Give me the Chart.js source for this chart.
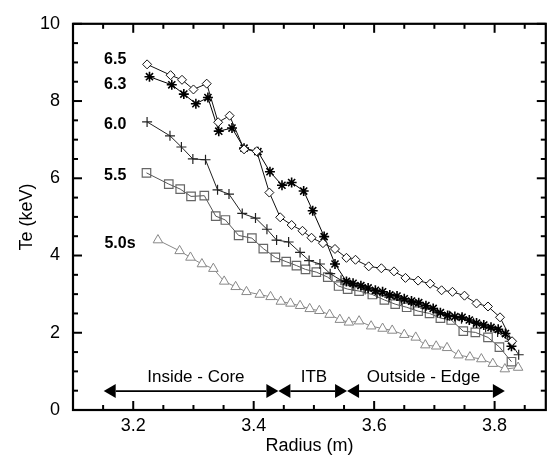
<!DOCTYPE html>
<html>
<head>
<meta charset="utf-8">
<script src="https://cdn.jsdelivr.net/npm/chart.js@4.4.1/dist/chart.umd.min.js"></script>
<style>
html, body { margin: 0; padding: 0; background: #fff; }
#wrap { width: 553px; height: 457px; }
</style>
</head>
<body>
<div id="wrap"><canvas id="teChart" width="553" height="457"></canvas></div>
<script>
// Te profiles at several times
const r65 = [3.223, 3.262, 3.281, 3.300, 3.322, 3.341, 3.360, 3.384, 3.405, 3.426, 3.444, 3.463, 3.481, 3.496, 3.515, 3.535, 3.554, 3.569, 3.591, 3.612, 3.633, 3.652, 3.673, 3.693, 3.712, 3.730, 3.750, 3.770, 3.789, 3.809, 3.829];
const te65 = [8.95, 8.67, 8.55, 8.30, 8.45, 7.45, 7.62, 6.75, 6.70, 5.63, 4.99, 4.79, 4.64, 4.46, 4.32, 4.17, 3.94, 3.89, 3.72, 3.67, 3.59, 3.42, 3.35, 3.27, 3.10, 3.06, 2.96, 2.76, 2.68, 2.40, 1.78];

const r63 = [3.227, 3.264, 3.284, 3.304, 3.324, 3.342, 3.364, 3.384, 3.407, 3.427, 3.447, 3.463, 3.483, 3.498, 3.517, 3.535, 3.554, 3.565, 3.578, 3.590, 3.602, 3.614, 3.626, 3.638, 3.650, 3.662, 3.674, 3.686, 3.698, 3.710, 3.722, 3.734, 3.746, 3.758, 3.770, 3.782, 3.794, 3.806, 3.818, 3.828];
const te63 = [8.63, 8.42, 8.18, 7.93, 8.09, 7.22, 7.30, 6.78, 6.69, 6.17, 5.82, 5.89, 5.67, 5.16, 4.49, 3.78, 3.33, 3.28, 3.22, 3.16, 3.10, 3.06, 2.98, 2.95, 2.88, 2.82, 2.78, 2.70, 2.63, 2.52, 2.45, 2.42, 2.40, 2.33, 2.25, 2.20, 2.14, 2.09, 1.98, 1.65];

const r60 = [3.223, 3.261, 3.280, 3.299, 3.320, 3.340, 3.359, 3.381, 3.403, 3.422, 3.438, 3.458, 3.477, 3.492, 3.510, 3.527, 3.545, 3.565, 3.585, 3.605, 3.625, 3.645, 3.665, 3.685, 3.705, 3.725, 3.745, 3.765, 3.785, 3.805, 3.825, 3.840];
const te60 = [7.46, 7.10, 6.81, 6.50, 6.48, 5.70, 5.59, 5.09, 4.97, 4.68, 4.40, 4.35, 4.08, 3.87, 3.78, 3.53, 3.36, 3.22, 3.12, 3.02, 2.92, 2.84, 2.74, 2.64, 2.52, 2.44, 2.36, 2.26, 2.14, 2.02, 1.78, 1.43];

const r55 = [3.222, 3.259, 3.278, 3.296, 3.318, 3.337, 3.353, 3.375, 3.397, 3.416, 3.436, 3.454, 3.471, 3.486, 3.504, 3.523, 3.541, 3.556, 3.575, 3.597, 3.617, 3.635, 3.654, 3.673, 3.692, 3.710, 3.728, 3.748, 3.768, 3.789, 3.808, 3.828];
const te55 = [6.14, 5.85, 5.72, 5.53, 5.55, 5.02, 4.92, 4.52, 4.45, 4.18, 3.95, 3.84, 3.74, 3.64, 3.57, 3.44, 3.21, 3.13, 3.08, 2.99, 2.85, 2.74, 2.66, 2.56, 2.50, 2.38, 2.33, 2.04, 2.01, 1.88, 1.63, 1.25];

const r50 = [3.241, 3.277, 3.295, 3.314, 3.333, 3.351, 3.370, 3.388, 3.410, 3.428, 3.445, 3.461, 3.477, 3.493, 3.509, 3.526, 3.543, 3.558, 3.575, 3.595, 3.614, 3.630, 3.650, 3.669, 3.685, 3.703, 3.721, 3.740, 3.759, 3.778, 3.797, 3.817, 3.839];
const te50 = [4.40, 4.12, 3.95, 3.78, 3.66, 3.33, 3.19, 3.06, 2.99, 2.93, 2.81, 2.76, 2.70, 2.62, 2.57, 2.47, 2.34, 2.27, 2.30, 2.17, 2.11, 2.06, 1.95, 1.88, 1.68, 1.65, 1.61, 1.42, 1.37, 1.32, 1.20, 1.06, 1.10];

const seriesNames = ['6.5', '6.3', '6.0', '5.5', '5.0s'];
const seriesLabelR = [3.170, 3.170, 3.170, 3.170, 3.178];
const seriesLabelTe = [9.07, 8.42, 7.38, 6.08, 4.31];

// axis ticks
const xTicks = [3.2, 3.4, 3.6, 3.8];
const xMinor = [3.15, 3.25, 3.3, 3.35, 3.45, 3.5, 3.55, 3.65, 3.7, 3.75, 3.85];
const yTicks = [0, 2, 4, 6, 8, 10];
const yMinor = [0.5, 1, 1.5, 2.5, 3, 3.5, 4.5, 5, 5.5, 6.5, 7, 7.5, 8.5, 9, 9.5];

// region arrows
const regionNames = ['Inside - Core', 'ITB', 'Outside - Edge'];
const regionStart = [3.151, 3.441, 3.555];
const regionEnd = [3.441, 3.555, 3.817];
const regionTextR = [3.304, 3.500, 3.682];
const arrowTe = 0.49;
const regionTextTe = 0.85;

const FONT = "'Liberation Sans', Arial, Helvetica, sans-serif";

function pts(xs, ys) {
    return xs.map((v, i) => ({ x: v, y: ys[i] }));
}

const framePlugin = {
    id: 'frame',
    afterDraw(chart) {
        const ctx = chart.ctx;
        const a = chart.chartArea;
        const x = chart.scales.x;
        const y = chart.scales.y;
        ctx.save();
        ctx.strokeStyle = '#000';
        ctx.lineWidth = 2.2;
        ctx.strokeRect(a.left, a.top, a.right - a.left, a.bottom - a.top);

        function seg(x1, y1, x2, y2) {
            ctx.beginPath();
            ctx.moveTo(x1, y1);
            ctx.lineTo(x2, y2);
            ctx.stroke();
        }
        ctx.lineWidth = 2;
        xTicks.forEach(v => { const p = x.getPixelForValue(v); seg(p, a.bottom, p, a.bottom - 9); seg(p, a.top, p, a.top + 9); });
        xMinor.forEach(v => { const p = x.getPixelForValue(v); seg(p, a.bottom, p, a.bottom - 5); seg(p, a.top, p, a.top + 5); });
        yTicks.forEach(v => { const p = y.getPixelForValue(v); seg(a.left, p, a.left + 9, p); seg(a.right, p, a.right - 9, p); });
        yMinor.forEach(v => { const p = y.getPixelForValue(v); seg(a.left, p, a.left + 5, p); seg(a.right, p, a.right - 5, p); });

        // time labels
        ctx.fillStyle = '#000';
        ctx.font = 'bold 16px ' + FONT;
        ctx.textAlign = 'center';
        ctx.textBaseline = 'middle';
        seriesNames.forEach((s, i) => {
            ctx.fillText(s, x.getPixelForValue(seriesLabelR[i]), y.getPixelForValue(seriesLabelTe[i]));
        });

        // region arrows
        const ay = y.getPixelForValue(arrowTe);
        const head = 12, half = 7;
        ctx.lineWidth = 1.6;
        ctx.font = '17px ' + FONT;
        regionNames.forEach((s, i) => {
            const x1 = x.getPixelForValue(regionStart[i]);
            const x2 = x.getPixelForValue(regionEnd[i]);
            seg(x1 + head, ay, x2 - head, ay);
            ctx.beginPath();
            ctx.moveTo(x1, ay);
            ctx.lineTo(x1 + head, ay - half);
            ctx.lineTo(x1 + head, ay + half);
            ctx.closePath();
            ctx.fill();
            ctx.beginPath();
            ctx.moveTo(x2, ay);
            ctx.lineTo(x2 - head, ay - half);
            ctx.lineTo(x2 - head, ay + half);
            ctx.closePath();
            ctx.fill();
            ctx.fillText(s, x.getPixelForValue(regionTextR[i]), y.getPixelForValue(regionTextTe));
        });
        ctx.restore();
    }
};

const ctx = document.getElementById('teChart').getContext('2d');

new Chart(ctx, {
    type: 'scatter',
    data: {
        datasets: [
            {
                label: '6.5', data: pts(r65, te65), showLine: true,
                borderColor: '#111', borderWidth: 1, pointStyle: 'rectRot', pointRadius: 4.5,
                pointBorderColor: '#111', pointBackgroundColor: '#fff', pointBorderWidth: 1
            },
            {
                label: '6.3', data: pts(r63, te63), showLine: true,
                borderColor: '#000', borderWidth: 1, pointStyle: 'star', pointRadius: 5,
                pointBorderColor: '#000', pointBorderWidth: 1.6
            },
            {
                label: '6.0', data: pts(r60, te60), showLine: true,
                borderColor: '#222', borderWidth: 1, pointStyle: 'cross', pointRadius: 5,
                pointBorderColor: '#222', pointBorderWidth: 1.2
            },
            {
                label: '5.5', data: pts(r55, te55), showLine: true,
                borderColor: '#555', borderWidth: 1, pointStyle: 'rect', pointRadius: 6,
                pointBorderColor: '#666', pointBackgroundColor: 'rgba(255,255,255,0)', pointBorderWidth: 1.2
            },
            {
                label: '5.0s', data: pts(r50, te50), showLine: true,
                borderColor: '#888', borderWidth: 1, pointStyle: 'triangle', pointRadius: 5.5,
                pointBorderColor: '#888', pointBackgroundColor: '#fff', pointBorderWidth: 1
            }
        ]
    },
    options: {
        responsive: false,
        animation: false,
        devicePixelRatio: 1,
        layout: { padding: { top: 18, right: 4, left: 0, bottom: 0 } },
        plugins: { legend: { display: false }, tooltip: { enabled: false } },
        scales: {
            x: {
                type: 'linear', min: 3.1, max: 3.885,
                grid: { display: false, drawTicks: false },
                border: { display: false },
                afterBuildTicks: s => { s.ticks = xTicks.map(v => ({ value: v })); },
                afterFit: s => { s.height = 47; },
                ticks: { color: '#000', padding: 5, font: { family: FONT, size: 18 }, maxRotation: 0,
                         callback: v => v.toFixed(1) },
                title: { display: true, text: 'Radius (m)', color: '#000', padding: { top: 0, bottom: 0 },
                         font: { family: FONT, size: 18 } }
            },
            y: {
                type: 'linear', min: 0, max: 10,
                grid: { display: false, drawTicks: false },
                border: { display: false },
                afterBuildTicks: s => { s.ticks = yTicks.map(v => ({ value: v })); },
                afterFit: s => { s.width = 73; },
                ticks: { color: '#000', padding: 13, font: { family: FONT, size: 18 } },
                title: { display: true, text: 'Te (keV)', color: '#000', padding: { top: 16, bottom: 0 },
                         font: { family: FONT, size: 18 } }
            }
        }
    },
    plugins: [framePlugin]
});
</script>
</body>
</html>
